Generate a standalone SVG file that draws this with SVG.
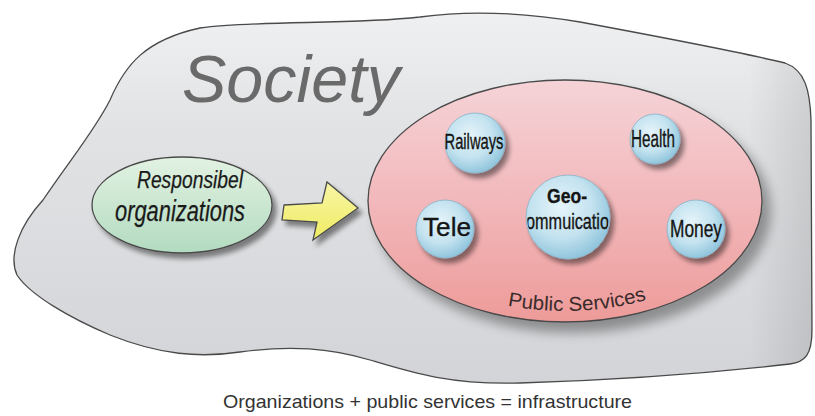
<svg xmlns="http://www.w3.org/2000/svg" width="815" height="416" viewBox="0 0 815 416">
<style>
.outline{stroke:#4a4a4a;stroke-width:1.3}
.sphere{fill:url(#gSphere);stroke:#86b3c9;stroke-width:0.8}
.stxt{font-family:"Liberation Sans",Arial,sans-serif;fill:#151515;stroke:#151515;stroke-width:0.35;text-anchor:middle}
.itxt{font-family:"Liberation Sans",Arial,sans-serif;font-style:italic;fill:#1a1a1a;stroke:#1a1a1a;stroke-width:0.25;text-anchor:middle}
</style>
<defs>
<linearGradient id="gBlob" x1="0" y1="0" x2="0" y2="1">
<stop offset="0" stop-color="#eff0f1"/>
<stop offset="0.3" stop-color="#e2e3e5"/>
<stop offset="1" stop-color="#d3d4d7"/>
</linearGradient>
<linearGradient id="gBlobEdge" x1="0" y1="0" x2="1" y2="0">
<stop offset="0.92" stop-color="#000" stop-opacity="0"/>
<stop offset="1" stop-color="#000" stop-opacity="0.1"/>
</linearGradient>
<linearGradient id="gGreen" x1="0" y1="0" x2="0" y2="1">
<stop offset="0" stop-color="#e2f2e2"/>
<stop offset="1" stop-color="#b2dbc0"/>
</linearGradient>
<linearGradient id="gRed" x1="0" y1="0" x2="0" y2="1">
<stop offset="0" stop-color="#f5d3d7"/>
<stop offset="0.5" stop-color="#f2b8bb"/>
<stop offset="1" stop-color="#ed9b99"/>
</linearGradient>
<linearGradient id="gYellow" x1="0" y1="0" x2="0" y2="1">
<stop offset="0" stop-color="#f8f6a6"/>
<stop offset="1" stop-color="#efec62"/>
</linearGradient>
<radialGradient id="gSphere" cx="0.42" cy="0.38" r="0.62">
<stop offset="0" stop-color="#e6f4fa"/>
<stop offset="0.6" stop-color="#c3e2ef"/>
<stop offset="1" stop-color="#92c6dd"/>
</radialGradient>
<filter id="shSmall" x="-40%" y="-40%" width="180%" height="180%">
<feGaussianBlur in="SourceAlpha" stdDeviation="2.5"/>
<feOffset dx="4" dy="5"/>
<feComponentTransfer><feFuncA type="linear" slope="0.45"/></feComponentTransfer>
<feMerge><feMergeNode/><feMergeNode in="SourceGraphic"/></feMerge>
</filter>
<filter id="shBig" x="-20%" y="-20%" width="140%" height="150%">
<feGaussianBlur in="SourceAlpha" stdDeviation="6"/>
<feOffset dx="8" dy="10"/>
<feComponentTransfer><feFuncA type="linear" slope="0.35"/></feComponentTransfer>
<feMerge><feMergeNode/><feMergeNode in="SourceGraphic"/></feMerge>
</filter>
<clipPath id="clipGeo"><circle cx="568" cy="217" r="41"/></clipPath>
<path id="psPath" d="M 470 295.6 A 186 110 0 0 0 700 276.6"/>
</defs>
<rect width="815" height="416" fill="#ffffff"/>

<g id="society">
<path class="outline" fill="url(#gBlob)" d="M 43 200 C 70 160, 95 130, 110 100 C 125 65, 145 40, 200 28 C 260 20, 350 25, 420 17 C 470 10, 520 12, 580 22 C 650 35, 740 52, 785 63 C 805 70, 810 90, 811 120 L 812 330 C 812 355, 805 362, 790 364 C 720 372, 620 380, 520 383 C 450 385, 410 372, 370 360 C 330 348, 290 345, 240 352 C 200 358, 160 355, 110 335 C 70 318, 30 295, 17 275 C 8 255, 20 225, 43 200 Z"/>
<path fill="url(#gBlobEdge)" d="M 43 200 C 70 160, 95 130, 110 100 C 125 65, 145 40, 200 28 C 260 20, 350 25, 420 17 C 470 10, 520 12, 580 22 C 650 35, 740 52, 785 63 C 805 70, 810 90, 811 120 L 812 330 C 812 355, 805 362, 790 364 C 720 372, 620 380, 520 383 C 450 385, 410 372, 370 360 C 330 348, 290 345, 240 352 C 200 358, 160 355, 110 335 C 70 318, 30 295, 17 275 C 8 255, 20 225, 43 200 Z"/>
<text x="182" y="102" font-family="'Liberation Sans',Arial,sans-serif" font-style="italic" font-size="66" fill="#6a6a6a" textLength="218" lengthAdjust="spacingAndGlyphs">Society</text>
</g>

<g id="responsible-organizations">
<ellipse class="outline" cx="182" cy="205" rx="90" ry="48" fill="url(#gGreen)" filter="url(#shSmall)"/>
<text class="itxt" x="190" y="188" font-size="24" textLength="106" lengthAdjust="spacingAndGlyphs">Responsibel</text>
<text class="itxt" x="180" y="221" font-size="29" textLength="130" lengthAdjust="spacingAndGlyphs">organizations</text>
</g>

<g id="public-services">
<ellipse class="outline" cx="565" cy="201" rx="197" ry="121" fill="url(#gRed)" filter="url(#shBig)"/>
<text font-family="'Liberation Sans',Arial,sans-serif" font-size="20" fill="#3a2b2b"><textPath href="#psPath" startOffset="39" textLength="140" lengthAdjust="spacingAndGlyphs">Public Services</textPath></text>
</g>

<g id="railways">
<circle class="sphere" cx="475" cy="143" r="30" filter="url(#shSmall)"/>
<text class="stxt" x="474" y="149" font-size="22" textLength="59" lengthAdjust="spacingAndGlyphs">Railways</text>
</g>

<g id="health">
<circle class="sphere" cx="655" cy="139" r="25" filter="url(#shSmall)"/>
<text class="stxt" x="653" y="147" font-size="23" textLength="44" lengthAdjust="spacingAndGlyphs">Health</text>
</g>

<g id="geo-communication">
<circle class="sphere" cx="568" cy="217" r="42" filter="url(#shSmall)"/>
<text class="stxt" x="567" y="203" font-size="21" font-weight="bold" textLength="40" lengthAdjust="spacingAndGlyphs">Geo-</text>
<text class="stxt" x="568" y="229" font-size="22" textLength="100" lengthAdjust="spacingAndGlyphs" clip-path="url(#clipGeo)">commuication</text>
</g>

<g id="tele">
<circle class="sphere" cx="445" cy="229" r="29" filter="url(#shSmall)"/>
<text class="stxt" x="447" y="236" font-size="26" textLength="48" lengthAdjust="spacingAndGlyphs">Tele</text>
</g>

<g id="money">
<circle class="sphere" cx="696" cy="229" r="29" filter="url(#shSmall)"/>
<text class="stxt" x="696" y="237" font-size="24" textLength="52" lengthAdjust="spacingAndGlyphs">Money</text>
</g>

<g id="connectors">
<path class="outline" fill="url(#gYellow)" filter="url(#shSmall)" d="M 284 205 L 322 203 L 327 182 L 358 208 L 313 240 L 317 222 L 282 220 Z"/>
</g>

<g id="caption">
<text x="223" y="408" font-family="'Liberation Sans',Arial,sans-serif" font-size="19" fill="#333333" textLength="409" lengthAdjust="spacingAndGlyphs">Organizations + public services = infrastructure</text>
</g>
</svg>
